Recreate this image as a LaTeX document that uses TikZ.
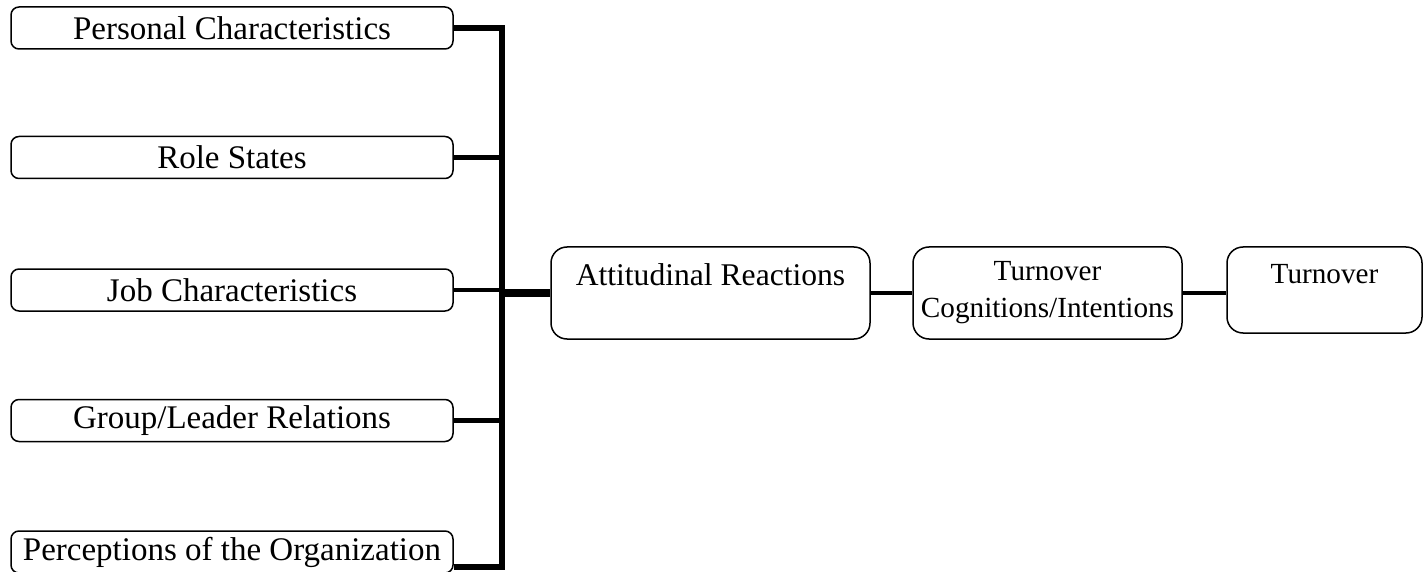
\documentclass[tikz,border=0pt]{standalone}
\usepackage{fontspec}
\setmainfont{Liberation Serif}
\usetikzlibrary{positioning}
\tikzset{
	factor/.style={draw, line width=0.75pt, rounded corners=4pt, minimum width=221pt, minimum height=21pt, inner sep=0pt, font=\fontsize{16.5}{18.5}\selectfont},
	stage/.style={draw, line width=0.75pt, rounded corners=8pt, minimum height=46pt, inner sep=0pt, align=center, font=\fontsize{14.6}{18.5}\selectfont},
	link/.style={line width=2.4pt},
	heavylink/.style={line width=4pt},
	bus/.style={line width=2.6pt, line join=miter}
}

\begin{document}
\begin{tikzpicture}[x=0.5pt, y=-0.5pt]
	\useasboundingbox (0,0) rectangle (1423,572);
	\node[factor] (pc) at (232,28) {Personal Characteristics};
	\node[factor] (rs) at (232,157.5) {Role States};
	\node[factor] (jc) at (232,290) {Job Characteristics};
	\node[factor] (gl) at (232,420.5) {Group/Leader Relations};
	\node[factor] (po) at (232,552) {Perceptions of the Organization};
	\node[stage, minimum width=159.5pt, font=\fontsize{15.8}{18.5}\selectfont] (att) at (710.5,293) {Attitudinal Reactions\\[-6pt] \strut};
	\node[stage, minimum width=134.5pt] (cog) at (1047.5,293) {Turnover\\ Cognitions/Intentions};
	\node[stage, minimum width=97.5pt, minimum height=43pt] (turn) at (1324.5,290) {Turnover\\[-8pt] \strut};

	\coordinate (bt) at (502,28);
	\coordinate (bb) at (502,567);

	\draw[bus] (pc.east) -- (bt) -- (bb) -- (po.east |- bb);
	\draw[link] (rs.east) -- (rs.east -| bt);
	\draw[link] (jc.east) -- (jc.east -| bt);
	\draw[link] (gl.east) -- (gl.east -| bt);
	\draw[heavylink] (att.west -| bt) -- (att.west);
	\draw[link] (att.east) -- (cog.west);
	\draw[link] (cog.east) -- (cog.east -| turn.west);
\end{tikzpicture}
\end{document}
